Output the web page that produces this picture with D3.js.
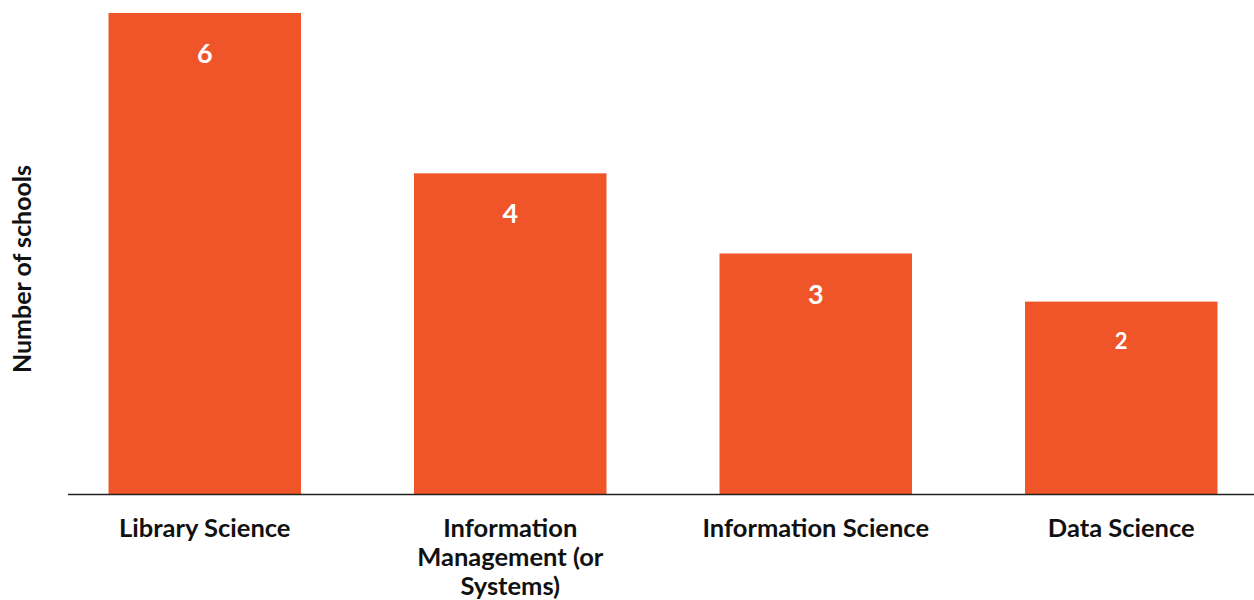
<!DOCTYPE html>
<html>
<head>
<meta charset="utf-8">
<script src="https://cdn.jsdelivr.net/npm/d3@7"></script>
<style>
  body { margin: 0; background: #fff; }
  svg text { font-family: Lato, "Open Sans", sans-serif; font-weight: bold; }
</style>
</head>
<body>
<div id="chart-area"></div>
<script>
// Data
var categories = ["Library Science", "Information Management (or Systems)", "Information Science", "Data Science"];
var categoryLines = [["Library Science"], ["Information", "Management (or", "Systems)"], ["Information Science"], ["Data Science"]];
var values = [6, 4, 3, 2.4];
var valueLabels = ["6", "4", "3", "2"];

var width = 1254, height = 600;
var baseY = 494;

var svg = d3.select("#chart-area")
    .append("svg")
        .attr("width", width)
        .attr("height", height);

// Scales
var x = d3.scaleBand()
    .domain(categories)
    .range([52, 1274])
    .paddingInner(0.37)
    .paddingOuter(0.185);
var y = d3.scaleLinear()
    .domain([0, 6])
    .range([baseY, 13]);

// Bars
svg.selectAll("rect.bar")
    .data(values)
    .enter()
    .append("rect")
        .attr("class", "bar")
        .attr("x", function(d, i){ return x(categories[i]); })
        .attr("y", function(d){ return y(d); })
        .attr("width", x.bandwidth())
        .attr("height", function(d){ return baseY - y(d); })
        .attr("fill", "#F05429");

// Value labels
svg.selectAll("text.value")
    .data(values)
    .enter()
    .append("text")
        .attr("class", "value")
        .attr("x", function(d, i){ return x(categories[i]) + x.bandwidth() / 2; })
        .attr("y", function(d, i){ return y(d) + (i == 3 ? 47 : 50); })
        .attr("text-anchor", "middle")
        .attr("font-size", function(d, i){ return i == 3 ? "22px" : "27px"; })
        .attr("fill", "#fff")
        .text(function(d, i){ return valueLabels[i]; });

// X axis line
svg.append("line")
    .attr("x1", 68)
    .attr("x2", 1254)
    .attr("y1", baseY + 0.5)
    .attr("y2", baseY + 0.5)
    .attr("stroke", "#222")
    .attr("stroke-width", 1.5);

// Category labels
var catLabels = svg.selectAll("text.cat")
    .data(categories)
    .enter()
    .append("text")
        .attr("class", "cat")
        .attr("text-anchor", "middle")
        .attr("font-size", "25.5px")
        .attr("fill", "#111");

catLabels.each(function(d, i){
    var t = d3.select(this);
    categoryLines[i].forEach(function(line, j){
        t.append("tspan")
            .attr("x", x(d) + x.bandwidth() / 2)
            .attr("y", 537 + j * 29)
            .text(line);
    });
});

// Y label
svg.append("text")
    .attr("transform", "translate(31," + 269 + ") rotate(-90)")
    .attr("text-anchor", "middle")
    .attr("font-size", "25px")
    .attr("fill", "#111")
    .text("Number of schools");
</script>
</body>
</html>
